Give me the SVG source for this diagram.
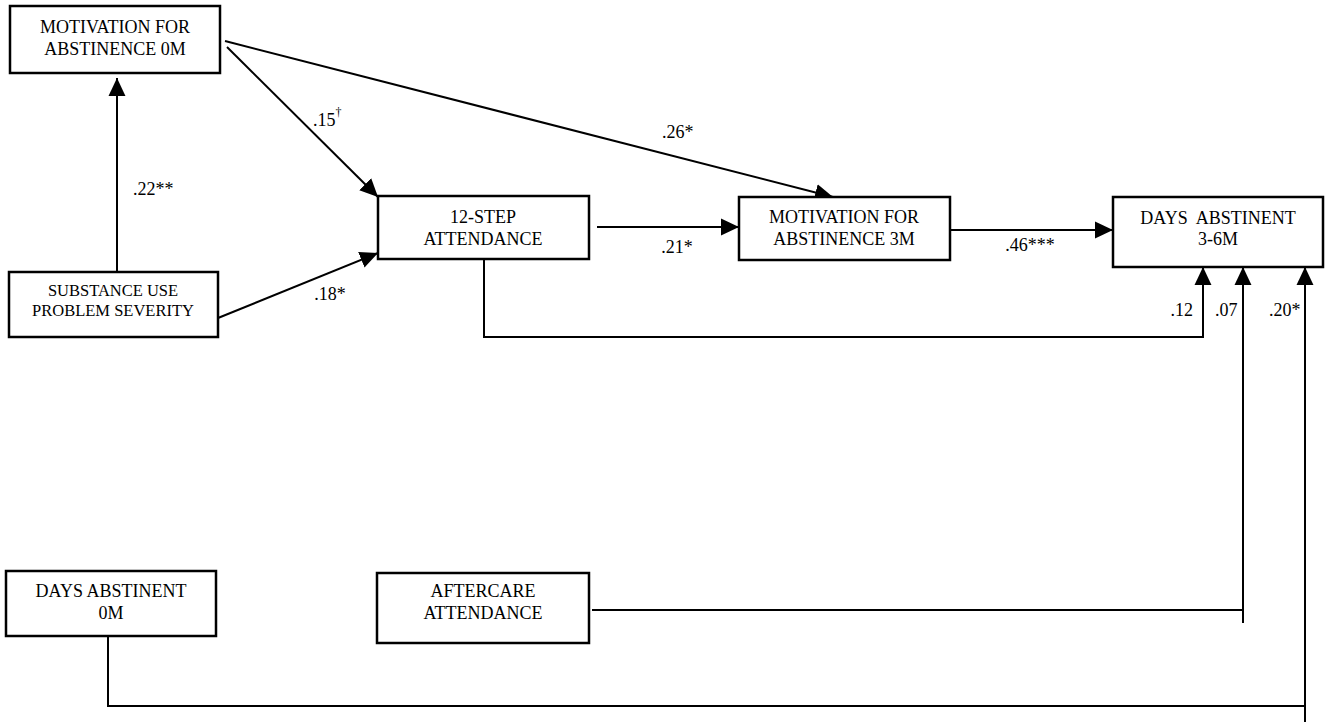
<svg xmlns="http://www.w3.org/2000/svg" width="1332" height="722" viewBox="0 0 1332 722">
<style>
.box{fill:#fff;stroke:#000;stroke-width:2.5}
.t{font-family:"Liberation Serif","Times New Roman",serif;font-size:18px;fill:#000;text-anchor:middle}
.ts{font-size:16.5px}
.lab{font-family:"Liberation Serif","Times New Roman",serif;font-size:18px;fill:#000}
.c{fill:none;stroke:#000;stroke-width:2}
.a{marker-end:url(#ah)}
</style>
<defs>
<marker id="ah" markerUnits="userSpaceOnUse" markerWidth="18" markerHeight="18" viewBox="0 0 17 16" refX="17" refY="8" orient="auto">
<path d="M0,0 L17,8 L0,16 z" fill="#000"/>
</marker>
</defs>
<rect width="1332" height="722" fill="#fff"/>
<g id="connectors">
<path class="c a" d="M117,272 V78"/>
<path class="c a" d="M227,47 L378,197"/>
<path class="c a" d="M218,318 L378,253"/>
<path class="c a" d="M225,41 L833,197"/>
<path class="c a" d="M597,227 H739"/>
<path class="c a" d="M950,230 H1113"/>
<path class="c a" d="M484,259 V337 H1203 V267"/>
<path class="c a" d="M592,610 H1243 M1243,623 V267"/>
<path class="c a" d="M108,636 V706 H1305 M1305,722 V267"/>
</g>
<g id="labels">
<text class="lab" x="133" y="195">.22**</text>
<text class="lab" x="313" y="126">.15<tspan font-size="12" dy="-10">†</tspan></text>
<text class="lab" x="662" y="138">.26*</text>
<text class="lab" x="330" y="300" text-anchor="middle">.18*</text>
<text class="lab" x="677" y="253" text-anchor="middle">.21*</text>
<text class="lab" x="1030" y="251" text-anchor="middle">.46***</text>
<text class="lab" x="1193" y="316" text-anchor="end">.12</text>
<text class="lab" x="1215" y="316">.07</text>
<text class="lab" x="1269" y="316">.20*</text>
</g>
<g id="mot0m">
<rect class="box" x="10" y="6" width="210" height="67"/>
<text class="t" x="115" y="33">MOTIVATION FOR</text>
<text class="t" x="115" y="55">ABSTINENCE 0M</text>
</g>
<g id="severity">
<rect class="box" x="9" y="272" width="209" height="65"/>
<text class="t ts" x="113" y="296">SUBSTANCE USE</text>
<text class="t ts" x="113" y="316">PROBLEM SEVERITY</text>
</g>
<g id="step12">
<rect class="box" x="378" y="196" width="211" height="63"/>
<text class="t" x="483" y="223">12-STEP</text>
<text class="t" x="483" y="245">ATTENDANCE</text>
</g>
<g id="mot3m">
<rect class="box" x="739" y="197" width="211" height="63"/>
<text class="t" x="844" y="223">MOTIVATION FOR</text>
<text class="t" x="844" y="245">ABSTINENCE 3M</text>
</g>
<g id="days36m">
<rect class="box" x="1113" y="197" width="210" height="70"/>
<text class="t" x="1218" y="224" xml:space="preserve">DAYS  ABSTINENT</text>
<text class="t" x="1218" y="245">3-6M</text>
</g>
<g id="days0m">
<rect class="box" x="6" y="571" width="210" height="65"/>
<text class="t" x="111" y="597">DAYS ABSTINENT</text>
<text class="t" x="111" y="619">0M</text>
</g>
<g id="aftercare">
<rect class="box" x="377" y="573" width="212" height="70"/>
<text class="t" x="483" y="597">AFTERCARE</text>
<text class="t" x="483" y="619">ATTENDANCE</text>
</g>
</svg>
